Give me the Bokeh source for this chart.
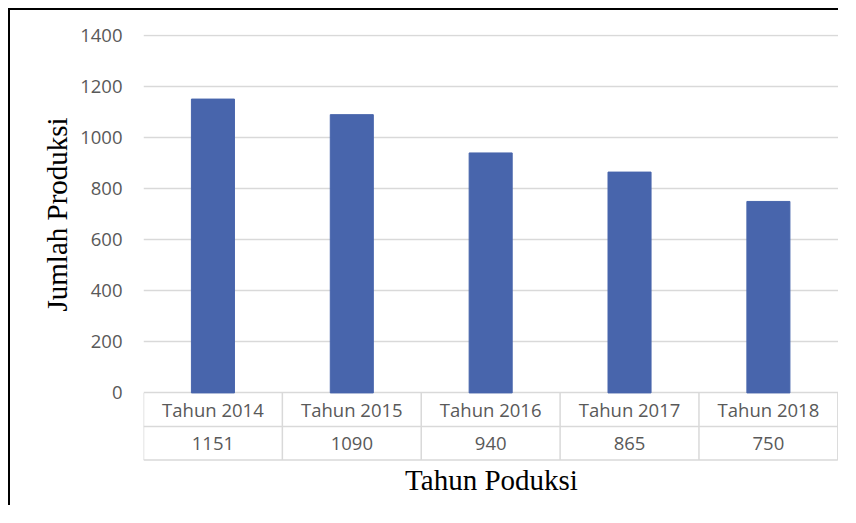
from bokeh.plotting import figure
from bokeh.layouts import column
from bokeh.models import FixedTicker, Range1d, Title
from bokeh.core.properties import value
from bokeh.embed import file_html
from bokeh.resources import INLINE

# ---- data ----
years = ["Tahun 2014", "Tahun 2015", "Tahun 2016", "Tahun 2017", "Tahun 2018"]
production = [1151, 1090, 940, 865, 750]
y_ticks = [0, 200, 400, 600, 800, 1000, 1200, 1400]
x_title = "Tahun Poduksi"
y_title = "Jumlah Produksi"

# ---- layout (pixels) ----
W, H = 830, 497
left, right, top = 133, 1, 24
y_max_tick = 1400
zero_px = 357.0            # 1400 line -> zero line
k = zero_px / y_max_tick   # px per data unit
row_px = 33.5
table_px = 2 * row_px
frame_bottom = top + 1 + zero_px + table_px + 1.5
bottom = int(round(H - frame_bottom))
row_h = row_px / k
y_min = -(table_px + 1.5) / k
y_max = y_max_tick + 1 / k

n = len(years)
x_end = n + 0.012
xs = [i + 0.5 for i in range(n)]

GRID = "#d9d9d9"
TXT = "#595959"
FONT = "Open Sans"
FS = "18.5px"
SERIF = "Liberation Serif"
TFS = "29px"

p = figure(width=W, height=H, output_backend="svg", toolbar_location=None,
           x_range=Range1d(0, x_end), y_range=Range1d(y_min, y_max),
           x_axis_location=None,
           min_border_left=left, min_border_right=right,
           min_border_top=top, min_border_bottom=bottom)
p.outline_line_color = None
p.background_fill_color = "white"
p.border_fill_color = "white"
p.styles = {"border-left": "2px solid black", "border-top": "2px solid black"}

p.xgrid.grid_line_color = None
p.yaxis.ticker = FixedTicker(ticks=y_ticks)
p.ygrid.ticker = FixedTicker(ticks=y_ticks)
p.ygrid.grid_line_color = GRID
p.ygrid.grid_line_width = 1.5
p.yaxis.axis_line_color = None
p.yaxis.major_tick_line_color = None
p.yaxis.minor_tick_line_color = None
p.yaxis.major_label_standoff = 15
p.yaxis.major_label_text_font = FONT
p.yaxis.major_label_text_font_size = FS
p.yaxis.major_label_text_color = TXT

# bars
p.vbar(x=xs, top=production, bottom=0, width=0.31, color="#4865AC")

# data table lines
vx = list(range(n + 1))
p.segment(x0=vx, y0=[0] * (n + 1), x1=vx, y1=[-2 * row_h] * (n + 1),
          line_color=GRID, line_width=1.5)
p.segment(x0=[0, 0], y0=[-row_h, -2 * row_h], x1=[n, n], y1=[-row_h, -2 * row_h],
          line_color=GRID, line_width=1.5)

# data table text
p.text(x=xs, y=[-row_h / 2] * n, text=years, text_align="center",
       text_baseline="middle", text_font=value(FONT), text_font_size=FS,
       text_color=TXT)
p.text(x=xs, y=[-1.5 * row_h] * n, text=[str(v) for v in production],
       text_align="center", text_baseline="middle", text_font=value(FONT),
       text_font_size=FS, text_color=TXT)

# axis titles
p.add_layout(Title(text=x_title, align="center", text_font=SERIF,
                   text_font_size=TFS, text_font_style="normal",
                   text_color="black", standoff=0), "below")
p.add_layout(Title(text=y_title, align="left", offset=150, text_font=SERIF,
                   text_font_size=TFS, text_font_style="normal",
                   text_color="black", standoff=10), "left")

layout = column(p, styles={"padding-left": "8px", "padding-top": "8px"})
open("out.html", "w").write(file_html(layout, INLINE))
